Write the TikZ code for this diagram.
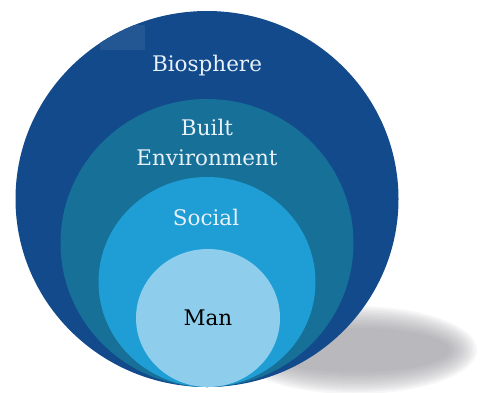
\documentclass[tikz,border=0pt]{standalone}
\usepackage{fontspec}
\setmainfont{DejaVu Serif}
\usetikzlibrary{shapes.geometric, positioning}

\definecolor{bioblue}{RGB}{18,74,140}
\definecolor{builtblue}{RGB}{22,112,152}
\definecolor{socialblue}{RGB}{30,158,212}
\definecolor{manblue}{RGB}{142,206,236}
\definecolor{paleblue}{RGB}{232,240,248}
\definecolor{shadowgray}{RGB}{150,150,156}

\begin{document}
\begin{tikzpicture}  [
        x = 1pt, y = -1pt,
        ring/.style = {ellipse, draw=none, inner sep=0pt},
        lbl/.style = {font=\rmfamily\fontsize{21.5}{30}\selectfont, text=paleblue, align=center, inner sep=0pt}
    ]

    \useasboundingbox (0,0) rectangle (481,392);

    % soft shadow
    \foreach \k in {0,...,11}
        \fill[shadowgray, opacity=0.085] (355,350) ellipse ({122-2.5*\k} and {44-2*\k});

    \node[ring, fill=bioblue,    minimum width=383pt, minimum height=376pt] (bio)    at (207,199) {};
    \begin{scope}
        \clip (207,199) ellipse (191.5 and 188);
        \fill[bioblue!93!white] (100,25) rectangle (145,50);
    \end{scope}
    \node[ring, fill=builtblue,  minimum width=293pt, minimum height=288pt] (built)  at (207,243) {};
    \node[ring, fill=socialblue, minimum width=217pt, minimum height=210pt] (social) at (207,282) {};
    \node[ring, fill=manblue,    minimum width=144pt, minimum height=138pt] (man)    at (208,318) {};

    \node[lbl] (bioText)    at (207,66)  {Biosphere};
    \node[lbl] (builtText)  at (207,142) {Built\\Environment};
    \node[lbl] (socialText) at (206,217) {Social};
    \node[lbl, text=black] (manText) at (208,318) {Man};

\end{tikzpicture}
\end{document}
